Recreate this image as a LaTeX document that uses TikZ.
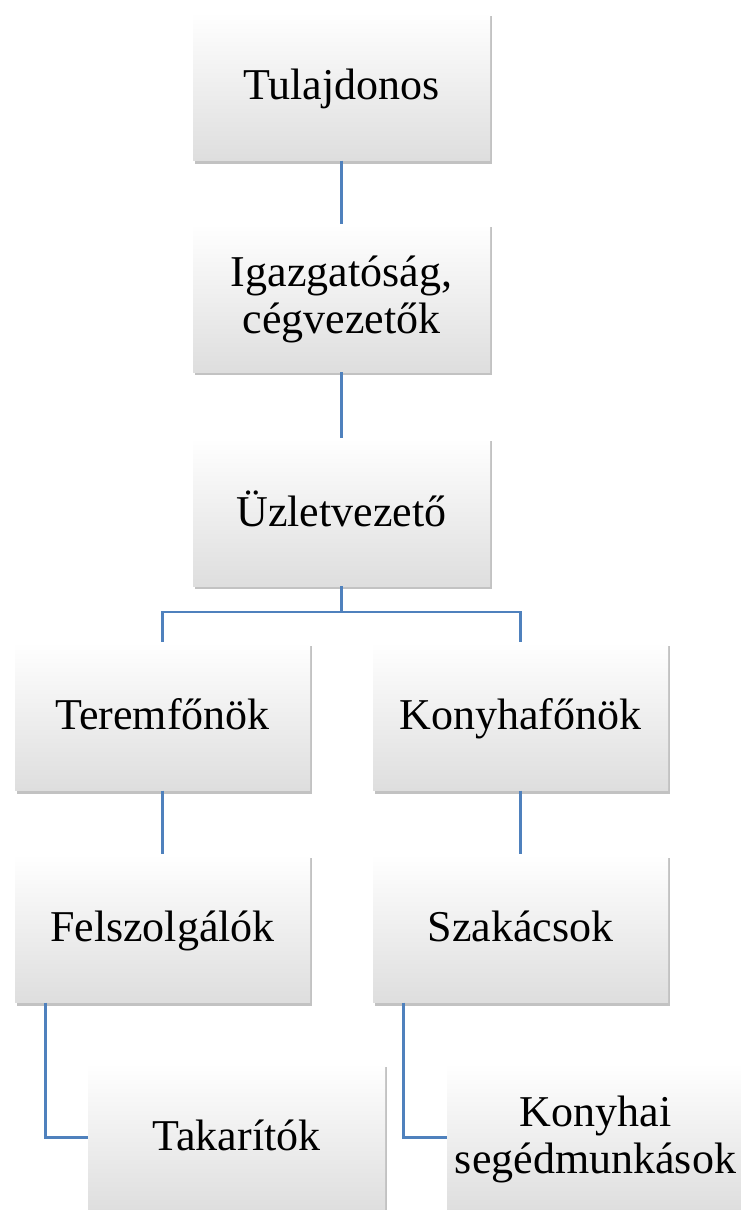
\documentclass[tikz,border=0pt]{standalone}
\usepackage{fontspec}
\setmainfont{Liberation Serif}
\usetikzlibrary{shadows}
\definecolor{connblue}{RGB}{79,129,189}
\begin{document}
\begin{tikzpicture}[x=1pt,y=1pt,
  orgbox/.style={rectangle, draw=none, minimum width=297pt, minimum height=148pt,
    top color=white, middle color=white, bottom color=black!13,
    drop shadow={shadow xshift=2pt, shadow yshift=-3pt, opacity=0.4, fill=black!60},
    inner sep=0pt},
  orglabel/.style={align=center, inner sep=0pt, yshift=-4pt,
    font=\fontsize{44}{47}\selectfont,
    execute at begin node=\strut, execute at end node=\strut},
  conn/.style={draw=connblue, line width=2.2pt}]
\useasboundingbox (0,0) rectangle (741,-1210);
\node[orgbox] (tul) at (341.5,-86.5) {};
\node[orgbox] (igaz) at (341.5,-298) {};
\node[orgbox] (uz) at (341.5,-512) {};
\node[orgbox, minimum width=295pt] (terem) at (162.5,-716.5) {};
\node[orgbox, minimum width=295pt] (konyha) at (520.5,-716.5) {};
\node[orgbox, minimum width=295pt] (felsz) at (162.5,-928.5) {};
\node[orgbox, minimum width=295pt] (szak) at (520.5,-928.5) {};
\draw[conn] (tul.south) -- (igaz.north);
\draw[conn] (igaz.south) -- (uz.north);
\draw[conn] (uz.south) -- ++(0,-26) coordinate (j);
\draw[conn] (j) -| (terem.north);
\draw[conn] (j) -| (konyha.north);
\draw[conn] (terem.south) -- (felsz.north);
\draw[conn] (konyha.south) -- (szak.north);
\coordinate (fs) at ([xshift=-117pt]felsz.south);
\coordinate (ss) at ([xshift=-117pt]szak.south);
\node[orgbox] (tak) at (236.5,-1137.5) {};
\node[orgbox] (ksm) at (595.5,-1137.5) {};
\draw[conn] (fs) |- (tak.west);
\draw[conn] (ss) |- (ksm.west);
\node[orglabel] (ttul) at (tul.center) {Tulajdonos};
\node[orglabel] (tigaz) at (igaz.center) {Igazgatóság,\\cégvezetők};
\node[orglabel] (tuz) at (uz.center) {Üzletvezető};
\node[orglabel] (tterem) at (terem.center) {Teremfőnök};
\node[orglabel] (tkonyha) at (konyha.center) {Konyhafőnök};
\node[orglabel] (tfelsz) at (felsz.center) {Felszolgálók};
\node[orglabel] (tszak) at (szak.center) {Szakácsok};
\node[orglabel] (ttak) at (tak.center) {Takarítók};
\node[orglabel] (tksm) at (ksm.center) {Konyhai\\segédmunkások};
\end{tikzpicture}
\end{document}
